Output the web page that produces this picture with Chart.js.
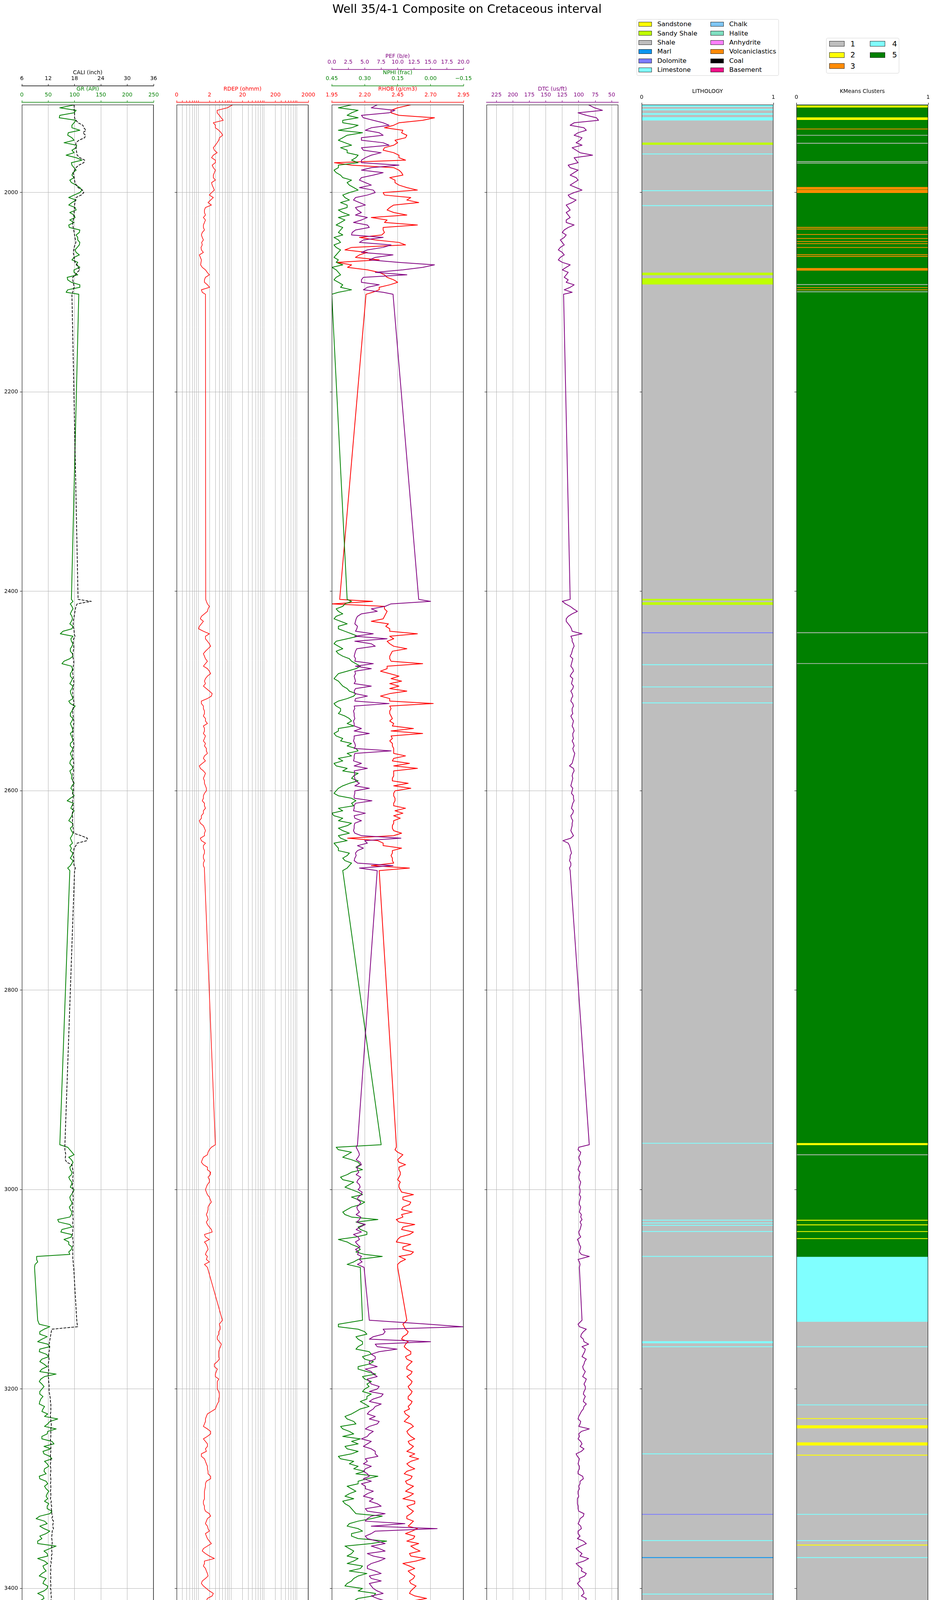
<!DOCTYPE html>
<html>
<head>
<meta charset="utf-8">
<title>Well 35/4-1 Composite on Cretaceous interval</title>
<script src="https://cdn.jsdelivr.net/npm/chart.js@4.4.1/dist/chart.umd.min.js"></script>
<style>
html,body{margin:0;padding:0;background:#fff;}
body{width:2390px;height:4828px;position:relative;overflow:hidden;font-family:"DejaVu Sans",sans-serif;color:#000;}
canvas{position:absolute;top:0;}
#suptitle{position:absolute;left:0;top:8px;width:2390px;text-align:center;font-size:30px;line-height:30px;white-space:nowrap;z-index:5;}
.lg{position:absolute;border:1px solid #d4d4d4;border-radius:4px;background:#fff;box-sizing:border-box;z-index:5;}
.sw{position:absolute;box-sizing:border-box;border:1px solid #222;z-index:6;}
.lt{position:absolute;white-space:nowrap;line-height:1;z-index:6;}
</style>
</head>
<body>
<div id="suptitle">Well 35/4-1 Composite on Cretaceous interval</div>
<script>
// ---------------- DATA (main samples) ----------------
const DEPTH = [
  1912,1915,1920,1925,1930,1935,1940,1945,1950,1955,1960,1965,1970,1975,1980,1985,1990,1995,2000,2005,
  2010,2015,2020,2025,2030,2035,2040,2045,2050,2055,2060,2065,2070,2075,2080,2085,2090,2095,2100,2102,
  2408,2410,2415,2420,2425,2430,2435,2440,2445,2450,2455,2460,2465,2470,2475,2480,2485,2490,2495,2500,
  2505,2510,2515,2520,2525,2530,2535,2540,2545,2550,2555,2560,2565,2570,2575,2580,2585,2590,2595,2600,
  2605,2610,2615,2620,2625,2630,2635,2640,2645,2650,2655,2660,2665,2670,2675,2680,
  2955,2960,2965,2970,2975,2980,2985,2990,2995,3000,3005,3010,3015,3020,3025,3030,3035,3040,3045,3050,
  3055,3060,3065,3067,3070,3075,3078,
  3131,3135,3140,3145,3150,3155,3160,3165,3170,3175,3180,3185,3190,3195,3200,3205,3210,3215,3220,3225,
  3230,3235,3240,3245,3250,3255,3260,3265,3270,3275,3280,3285,3290,3295,3300,3305,3310,3315,3320,3325,
  3330,3335,3340,3345,3350,3355,3360,3365,3370,3375,3380,3385,3390,3395,3400,3405,3410,3415,3420,3425,
  3430,3435,3440,3445,3450,3455,3460,3465,3470,3475,3480,3485,3490,3495,3500,3505,3510,3515,3520,3525,
  3530,3535,3540,3545,3550,3555,3560,3565,3570,3575,3580,3585,3590,3595,3600,3605,3610,3615,3620,3625,
  3630,3635,3640,3645,3650,3655,3660,3665,3670,3675,3680,3685,3690,3695
];
const GR = [
  100,72,99,71,99,95,88,95,80,103, 99,103,94,99,97,99,94,110,110,89, 95,101,91,101,99,90,109,106,110,105, 103,99,106,110,99,86,94,110,84,108,
  94,97,95,94,95,94,97,78,97,94, 95,92,97,80,94,95,92,94,97,92, 95,89,101,95,92,95,94,97,94,97, 92,95,94,92,95,91,95,97,95,97, 99,86,95,99,95,89,97,94,95,94, 91,92,95,97,92,91,
  72,91,99,94,95,92,94,91,94,99, 94,92,94,92,94,68,91,76,94,80, 89,94,91,28,28,25,24,
  30,
  33,42,34,38,49,34,46,38,42,38, 65,36,38,38,34,36,33,40,49,68, 49,65,48,38,61,55,42,57,48,43, 46,34,49,46,48,49,51,48,53,27,
  48,42,46,38,30,53,48,30,49,42, 38,46,40,48,30,42,34,17,49,21, 34,27,27,49,25,23,53,42,34,46, 49,30,42,49,46,48,43,42,23,42,
  34,30,42,38,48,42,46,48,49,46, 53,48,42,53,49,48,51,46,49,43, 48,42,34,30,28,34,30,38,34,57, 51,60,57
];
const CALI = [
  17.9,17.9,18.0,18.0,18.8,20.1,19.9,20.3,18.3,18.3, 18.5,19.2,20.1,18.3,17.7,17.9,18.1,18.8,20.1,18.3, 18.1,18.0,17.9,17.9,17.6,17.7,17.9,18.1,18.3,17.9, 17.7,17.9,18.1,18.8,18.6,17.6,17.7,17.9,17.6,17.4,
  18.8,21.8,18.3,18.1,17.9,17.7,17.7,17.9,18.1,17.7, 17.8,17.7,17.6,17.8,17.7,17.6,17.7,17.8,17.7,17.6, 17.7,17.8,17.7,17.6,17.7,17.8,17.7,17.7,17.6,17.7, 17.8,17.7,17.6,17.7,17.7,17.8,17.7,17.6,17.7,17.8, 17.7,17.6,17.7,17.6,17.5,17.5,17.6,17.7,19.5,20.8, 18.3,17.8,17.7,17.8,17.9,18.0,
  15.8,15.8,16.0,15.9,17.4,17.6,17.7,17.6,17.5,17.7, 17.6,17.7,17.6,17.5,17.6,17.7,17.6,17.6,17.5,17.6, 17.7,17.6,17.6,17.6,17.6,17.7,17.8,
  18.5,
  18.6,12.8,12.6,12.4,12.2,12.3,12.1,12.2,12.0,12.1, 12.0,12.1,12.2,12.2,12.3,12.5,12.6,12.6,12.5,12.6, 12.7,12.6,12.6,12.5,12.6,12.6,12.5,12.6,12.5,12.6, 12.5,12.6,12.5,12.6,12.6,12.5,12.6,12.7,12.8,12.8,
  13.1,13.2,12.9,12.8,12.9,12.8,12.9,12.8,12.7,12.6, 12.5,12.6,12.6,12.5,12.6,12.7,12.8,12.6,12.7,12.6, 12.6,12.7,12.8,12.9,12.8,13.0,13.6,13.7,13.2,13.0, 14.8,12.9,12.8,13.0,12.9,12.8,13.0,12.9,13.0,12.9,
  13.1,12.8,12.7,12.8,12.9,12.7,12.6,12.7,12.8,12.7, 12.6,12.7,12.8,12.9,12.7,12.6,12.7,12.6,12.5,12.6, 12.5,12.4,12.4,12.3,12.4,12.3,12.4,12.3,12.2,12.4, 12.3,12.3,12.4
];
const RDEP = [
  10,6.9,3.4,4.5,2.6,3.0,4.5,4.0,3.4,2.6, 3.4,2.3,3.0,2.6,2.8,2.6,2.3,2.6,2.3,2.6, 1.8,1.5,1.4,1.3,1.4,1.3,1.2,1.2,1.15,1.1, 1.3,1.05,1.1,1.2,1.7,1.5,1.4,2.0,1.2,1.5,
  1.53,1.6,1.97,1.72,1.13,1.3,0.98,1.3,1.5,1.72, 2.15,1.5,1.4,1.72,1.3,1.97,1.72,1.4,1.3,1.97, 2.27,1.13,1.3,1.4,1.3,1.5,1.3,1.4,1.5,1.3, 1.4,1.6,1.4,1.5,0.98,1.3,1.4,1.4,1.5,1.6, 1.3,1.2,1.4,1.3,1.13,0.98,1.3,1.5,1.4,1.13, 1.3,1.4,1.3,1.4,1.3,1.4,
  3.0,1.97,1.72,1.2,1.3,1.72,2.1,1.97,1.72,1.5, 1.72,2.1,1.97,1.8,1.6,1.8,1.72,2.27,1.4,1.97, 1.6,1.8,1.5,1.72,1.6,1.4,1.72,
  4.9,
  3.96,4.2,3.8,3.44,4.56,3.96,3.8,3.96,2.8,3.44, 3.0,3.8,3.44,3.44,3.96,3.8,3.44,3.0,1.72,1.5, 1.4,1.72,2.15,1.3,1.72,1.5,1.13,1.4,1.6,1.72, 1.8,2.15,1.5,1.45,1.4,1.4,1.3,1.4,1.97,1.72,
  1.5,1.8,1.5,1.72,2.27,1.3,1.5,2.8,1.4,1.5, 1.72,1.5,1.13,1.6,2.6,1.72,1.8,5.2,2.27,6.0, 1.72,3.0,5.2,3.0,5.2,6.9,2.27,2.4,2.27,2.15, 1.6,3.44,1.5,1.4,1.97,1.3,1.97,1.5,3.44,1.72,
  1.8,1.72,1.5,1.72,1.6,1.8,1.6,1.72,1.6,1.5, 1.6,1.5,1.6,1.5,1.6,1.72,1.6,1.72,1.8,1.72, 1.8,1.97,2.15,2.8,2.27,2.15,3.44,2.27,3.0,1.13, 1.2,1.72,2.27
];
const RHOB = [
  2.55,2.45,2.40,2.73,2.46,2.35,2.48,2.51,2.45,2.35, 2.42,2.46,1.97,2.42,2.48,2.39,2.43,2.52,2.34,2.55, 2.61,2.39,2.42,2.25,2.35,2.34,2.35,2.16,2.46,2.10, 2.22,2.13,1.99,2.07,2.31,2.37,2.45,2.31,2.26,2.21,
  2.01,2.26,2.35,2.37,2.35,2.25,2.36,2.39,2.39,2.37, 2.42,2.41,2.39,2.40,2.37,2.32,2.46,2.48,2.46,2.52, 2.32,2.39,2.39,2.39,2.40,2.39,2.41,2.40,2.40,2.39, 2.41,2.42,2.51,2.41,2.42,2.42,2.42,2.41,2.42,2.43, 2.42,2.43,2.42,2.43,2.42,2.42,2.41,2.42,2.42,2.30, 2.34,2.41,2.40,2.41,2.25,2.31,
  2.44,2.43,2.49,2.45,2.51,2.46,2.47,2.45,2.46,2.47, 2.57,2.49,2.54,2.48,2.48,2.44,2.58,2.48,2.54,2.45, 2.55,2.49,2.55,2.46,2.51,2.45,2.45,
  2.52,
  2.49,2.51,2.52,2.48,2.51,2.52,2.55,2.52,2.54,2.52, 2.55,2.54,2.55,2.54,2.55,2.53,2.55,2.54,2.51,2.52, 2.55,2.54,2.53,2.58,2.54,2.55,2.58,2.61,2.52,2.58, 2.50,2.55,2.52,2.54,2.57,2.49,2.58,2.54,2.55,2.52,
  2.55,2.60,2.51,2.57,2.61,2.58,2.54,2.66,2.49,2.58, 2.55,2.57,2.55,2.57,2.54,2.67,2.57,2.55,2.63,2.55, 2.58,2.60,2.58,2.57,2.60,2.58,2.69,2.54,2.55,2.63, 2.46,2.49,2.52,2.61,2.48,2.51,2.79,2.57,2.42,2.63,
  2.49,2.48,2.55,2.52,2.72,2.51,2.61,2.55,2.58,2.73, 2.66,2.55,2.61,2.52,2.58,2.57,2.69,2.61,2.58,2.63, 2.55,2.61,2.60,2.57,2.58,2.67,2.55,2.52,2.60,2.55, 2.66,2.46,2.76
];
const NPHI = [
  0.36,0.42,0.36,0.33,0.40,0.36,0.31,0.40,0.39,0.41, 0.38,0.34,0.33,0.42,0.43,0.40,0.38,0.35,0.37,0.39, 0.41,0.38,0.40,0.42,0.41,0.40,0.42,0.44,0.41,0.43, 0.42,0.44,0.43,0.45,0.42,0.43,0.42,0.41,0.42,0.45,
  0.38,0.36,0.40,0.42,0.43,0.41,0.42,0.39,0.33,0.43, 0.42,0.43,0.40,0.36,0.32,0.38,0.43,0.42,0.40,0.37, 0.35,0.42,0.43,0.41,0.39,0.36,0.35,0.42,0.43,0.41, 0.38,0.33,0.36,0.40,0.43,0.40,0.35,0.33,0.40,0.43, 0.42,0.34,0.35,0.40,0.44,0.42,0.38,0.40,0.42,0.38, 0.43,0.42,0.38,0.39,0.37,0.40,
  0.225,0.42,0.38,0.36,0.32,0.31,0.38,0.40,0.37,0.36, 0.31,0.33,0.32,0.38,0.39,0.24,0.30,0.32,0.29,0.42, 0.36,0.32,0.30,0.22,0.33,0.38,0.32,
  0.31,
  0.42,0.33,0.29,0.33,0.31,0.34,0.27,0.30,0.28,0.33, 0.25,0.30,0.29,0.30,0.27,0.29,0.30,0.32,0.36,0.38, 0.34,0.40,0.35,0.32,0.33,0.38,0.36,0.41,0.37,0.35, 0.34,0.29,0.33,0.36,0.37,0.35,0.39,0.36,0.34,0.27,
  0.37,0.33,0.36,0.33,0.27,0.37,0.36,0.33,0.38,0.32, 0.29,0.35,0.38,0.31,0.25,0.33,0.27,0.18,0.37,0.31, 0.17,0.19,0.16,0.18,0.15,0.16,0.27,0.25,0.31,0.32, 0.29,0.22,0.28,0.36,0.38,0.34,0.36,0.38,0.33,0.34,
  0.38,0.32,0.33,0.36,0.33,0.35,0.31,0.36,0.38,0.36, 0.38,0.40,0.36,0.38,0.42,0.36,0.38,0.33,0.34,0.36, 0.33,0.30,0.27,0.25,0.16,0.22,0.17,0.22,0.33,0.38, 0.42,0.43,0.36
];
const PEF = [
  6.9,6.0,8.7,4.8,7.8,6.0,7.2,4.5,7.8,4.5, 7.5,5.1,4.5,6.0,7.8,4.5,5.1,4.2,6.6,3.6, 4.2,3.6,4.5,5.4,3.3,5.7,3.1,7.8,4.2,7.8, 4.5,6.6,10.2,13.8,6.6,4.8,4.5,5.4,7.8,9.3,
  13.2,15.0,8.1,6.9,3.9,3.6,3.9,3.6,3.5,3.5, 6.6,3.6,3.4,3.5,3.6,3.5,3.4,3.6,6.0,3.4, 5.4,3.5,3.4,3.3,3.4,3.3,3.4,3.4,3.4,3.3, 3.6,9.0,3.4,3.3,3.4,3.4,3.4,3.6,3.5,3.5, 3.4,6.1,3.4,3.3,3.4,4.5,3.4,3.3,4.5,5.0, 3.9,3.9,3.7,3.4,9.3,6.9,
  3.9,3.9,4.2,3.7,4.5,3.9,3.7,4.0,4.2,4.0, 4.5,3.9,4.2,3.9,3.7,4.2,5.1,3.7,3.3,4.2, 3.9,3.6,3.9,4.5,4.2,3.9,4.9,
  5.7,
  14.7,7.8,7.8,5.7,6.6,9.9,6.0,6.6,5.7,5.1, 6.3,5.4,6.0,6.9,7.8,6.3,7.5,6.3,5.4,5.7, 6.9,5.1,5.7,4.5,5.4,6.0,6.6,5.1,4.8,5.1, 5.4,4.8,4.5,5.1,5.4,6.3,6.9,5.1,8.1,5.4,
  11.1,16.0,6.0,5.4,8.1,7.2,5.4,8.1,6.0,5.4, 7.5,6.0,5.7,6.3,7.8,6.9,5.7,6.6,5.1,7.8, 4.8,5.1,4.8,4.5,5.4,4.8,6.9,6.0,4.5,5.7, 19.9,5.4,5.7,17.2,19.9,6.0,7.2,7.8,7.2,8.1,
  8.7,6.6,6.3,7.8,10.8,6.9,5.7,6.3,9.6,7.2, 8.1,5.1,6.0,6.3,5.4,6.9,8.4,6.0,7.8,6.6, 6.0,7.2,7.8,6.3,7.2,5.7,6.9,6.0,6.3,5.4, 6.9,6.0,7.5
];
const DTC = [
  85,76,101,73,107,92,101,95,104,110, 98,107,101,113,107,104,107,104,107,113, 110,116,119,113,119,116,125,122,125,128, 125,128,125,119,116,122,119,113,110,123,
  113,125,113,102,116,119,113,110,112,110, 107,110,113,110,112,108,113,110,108,112, 109,112,108,110,112,108,110,107,109,110, 107,108,107,109,114,107,110,110,112,110, 108,107,110,108,112,109,110,112,108,124, 114,112,113,114,112,113,
  84,101,98,99,98,101,99,99,98,98, 99,98,99,98,96,95,96,98,99,102, 99,98,96,84,101,98,99,
  95,
  101,88.5,96,93,85,90,93,88.5,92,93, 92,88.5,92,90,93,92,88.5,93,98,101, 98,84,100,101,95,92,104,99,101,99, 101,93,98,99,101,102,102,101,92,98,
  101,96,101,102,88.5,104,95,85,104,95, 88.5,99,102,95,92,88.5,95,76,93,79, 88.5,79,82,85,76,75,88.5,84,93,90, 95,93,88.5,98,107,101,106,108,98,104,
  101,104,102,101,99,102,101,99,98,102, 101,104,102,101,99,101,98,99,98,96, 93,92,93,95,85,92,88.5,90,98,101, 102,95,88.5
];

// ---------------- DATA (intermediate samples, read between the main ones) ----------------
const DEPTH_MID = [
  1917.5,1922.5,1927.5,1932.5,1937.5,1942.5,1947.5,1952.5,1957.5,1962.5,1967.5,1972.5,1977.5,1982.5,1987.5,1992.5,1997.5,2002.5,2007.5,2012.5,
  2017.5,2022.5,2027.5,2032.5,2037.5,2042.5,2047.5,2052.5,2057.5,2062.5,2067.5,2072.5,2077.5,2082.5,2087.5,2092.5,2097.5,
  2412.5,2417.5,2422.5,2427.5,2432.5,2437.5,2442.5,2447.5,2452.5,2457.5,2462.5,2467.5,2472.5,2477.5,2482.5,2487.5,2492.5,2497.5,2502.5,2507.5,
  2512.5,2517.5,2522.5,2527.5,2532.5,2537.5,2542.5,2547.5,2552.5,2557.5,2562.5,2567.5,2572.5,2577.5,2582.5,
  2587.5,2592.5,2597.5,2602.5,2607.5,2612.5,2617.5,2622.5,2627.5,2632.5,2637.5,2642.5,2647.5,2652.5,2657.5,2662.5,2667.5,2672.5,2677.5,
  2957.5,2962.5,2967.5,2972.5,2977.5,2982.5,2987.5,2992.5,2997.5,3002.5,3007.5,3012.5,3017.5,3022.5,3027.5,3032.5,3037.5,3042.5,3047.5,3052.5,
  3057.5,3062.5,3072.5,
  3137.5,3142.5,3147.5,3152.5,3157.5,3162.5,3167.5,3172.5,3177.5,3182.5,3187.5,3192.5,
  3197.5,3202.5,3207.5,3212.5,3217.5,3222.5,3227.5,3232.5,3237.5,3242.5,3247.5,3252.5,3257.5,3262.5,3267.5,3272.5,3277.5,3282.5,3287.5,3292.5,
  3297.5,3302.5,3307.5,3312.5,3317.5,3322.5,3327.5,3332.5,3337.5,3342.5,3347.5,3352.5,3357.5,3362.5,3367.5,3372.5,3377.5,3382.5,3387.5,3392.5,
  3397.5,3402.5,3407.5,3412.5,3417.5,3422.5,3427.5,3432.5,3437.5,3442.5,
  3447.5,3452.5,3457.5,3462.5,3467.5,3472.5,3477.5,3482.5,3487.5,3492.5,3497.5,3502.5,3507.5,3512.5,3517.5,3522.5,3527.5,3532.5,3537.5,3542.5,
  3547.5,3552.5,3557.5,3562.5,3567.5,3572.5,3577.5,3582.5,3587.5,3592.5,3597.5,3602.5,3607.5,3612.5,3617.5,3622.5,3627.5,3632.5,3637.5,3642.5,
  3647.5,3652.5,3657.5,3662.5,3667.5,3672.5,3677.5,3682.5,3687.5,3692.5
];
const GR_MID = [
  103,72,103,95,110,87,99,104,95,84, 114,95,103,95,91,103,114,99,103,89, 103,99,91,89,110,103,106,109,101,109, 95,103,99,106,87,110,87,
  92,97,92,96,91,95,73,93,97,92, 96,91,76,96,92,96,91,95,93,97, 92,97,92,97,92,96,92,96,92,97, 92,96,91,97,93,
  94,99,93,96,92,98,93,96,92,96, 92,97,92,96,94,97,92,95,87,
  87,95,89,97,91,95,89,95,92,97, 91,95,90,95,91,70,95,74,94,89, 95,89,30,
  53,34,48,30,53,33,51,34,48,34,43,33,
  42,34,40,34,43,38,43,53,43,49, 38,57,42,40,53,43,51,42,33,46, 43,51,46,43,48,57,34,43,34,53, 34,30,65,42,49,43,40,46,33,42, 49,42,40,34,23,53,23,27,38,30,
  25,42,23,42,48,49,40,53,34,46, 38,48,42,49,48,27,34,43,30,38, 46,42,38,49,43,51,46,53,43,49, 46,48,53,46,43,53,43,49,43,38, 34,27,38,33,30,33,53,65,84,53
];
const CALI_MID = [
  17.9,18.0,18.3,19.9,20.6,20.5,19.0,18.3,18.4,18.6, 20.3,19.0,18.0,17.8,18.0,18.4,19.8,19.5,18.2,18.0, 17.9,17.8,17.7,17.6,17.8,18.0,18.2,18.1,17.8,17.8, 18.0,18.6,19.2,18.2,17.6,17.8,17.7,
  18.6,18.2,18.0,17.8,17.7,17.8,17.9,17.8,17.7,17.8, 17.6,17.7,17.8,17.7,17.6,17.7,17.8,17.7,17.6,17.7, 17.8,17.7,17.6,17.7,17.8,17.7,17.6,17.7,17.8,17.7, 17.6,17.7,17.8,17.7,17.6,
  17.7,17.8,17.7,17.6,17.7,17.6,17.7,17.5,17.6,17.6, 17.7,17.8,20.9,18.6,17.9,17.7,17.8,17.8,18.2,
  15.8,15.9,15.9,16.2,17.5,17.7,17.6,17.7,17.6,17.6, 17.7,17.6,17.6,17.7,17.6,17.6,17.7,17.6,17.6,17.7, 17.6,17.6,17.7,
  18.7,12.7,12.5,12.3,12.3,12.2,12.1,12.1,12.0,12.1,12.0,12.1,
  12.2,12.2,12.4,12.5,12.6,12.6,12.5,12.6,12.7,12.6, 12.6,12.5,12.6,12.6,12.5,12.6,12.5,12.6,12.5,12.6, 12.6,12.5,12.6,12.7,12.8,12.8,13.0,13.2,13.0,12.9, 12.8,12.9,12.8,12.8,12.7,12.6,12.5,12.6,12.6,12.5, 12.6,12.7,12.7,12.6,12.7,12.6,12.6,12.7,12.8,12.8,
  12.8,12.9,12.9,13.3,13.8,13.5,13.0,13.6,13.0,12.9, 12.9,12.8,12.9,13.0,12.9,12.9,13.0,12.9,12.9,12.8, 12.8,12.7,12.8,12.8,12.7,12.8,12.7,12.7,12.6,12.8, 12.9,12.8,12.7,12.6,12.7,12.6,12.6,12.5,12.5,12.4, 12.4,12.4,12.3,12.4,12.3,12.3,12.3,12.4,12.3,12.4
];
const RDEP_MID = [
  3.4,3.96,5.2,3.0,3.8,5.0,3.8,3.0,2.8,2.6, 3.0,2.4,3.0,2.6,3.0,2.4,2.8,1.97,2.15,2.27, 1.4,1.5,1.5,1.3,1.4,1.13,1.3,1.2,1.13,0.98, 1.13,1.07,1.5,1.97,1.4,1.72,1.13,
  1.72,1.8,1.4,1.05,1.13,0.93,1.97,1.5,1.97,1.8, 1.3,1.5,1.5,1.72,2.15,1.5,1.5,1.6,2.4,1.72, 1.13,1.3,1.4,1.5,1.72,1.4,1.3,1.4,1.5,1.6, 1.72,1.3,1.2,1.05,1.5,
  1.3,1.4,1.6,1.4,1.3,1.4,1.5,1.3,1.13,1.05, 1.4,1.4,1.05,1.5,1.3,1.4,1.3,1.3,1.4,
  2.27,1.8,1.3,1.13,1.72,2.15,1.8,1.97,1.6,1.6, 1.97,2.27,1.8,1.72,1.72,1.6,1.97,2.4,1.5,1.4, 1.72,1.6,1.97,
  4.2,3.8,3.44,3.96,4.3,3.8,3.8,3.44,2.8,3.2,3.0,3.44,
  3.44,3.8,3.96,3.8,3.2,2.27,1.6,1.5,1.3,2.15, 1.72,1.5,1.72,1.6,1.13,1.5,1.72,1.8,2.15,1.6, 1.5,1.4,1.4,1.3,1.4,1.5,2.15,1.6,1.72,1.97, 1.6,1.97,1.72,1.2,1.97,1.4,1.3,1.6,1.8,1.2, 1.3,1.97,2.4,1.6,2.27,6.0,3.44,2.27,1.97,3.8,
  6.5,3.2,6.5,2.27,2.15,2.4,2.6,1.8,1.97,3.0, 1.4,1.6,1.5,1.5,1.72,2.6,2.15,1.72,1.6,1.8, 1.6,1.72,1.5,1.97,1.6,1.5,1.72,1.6,1.5,1.6, 1.6,1.5,1.72,1.6,1.72,1.8,1.72,1.8,1.97,2.27, 2.15,3.0,2.4,2.27,3.0,3.8,1.97,1.13,1.3,2.15
];
const RHOB_MID = [
  2.40,2.46,2.64,2.42,2.49,2.52,2.43,2.42,2.34,2.46, 2.51,2.10,2.46,2.49,2.43,2.46,2.60,2.35,2.52,2.42, 2.37,2.52,2.37,2.60,2.34,2.33,2.28,2.51,2.05,2.16, 2.31,2.10,2.22,2.35,2.42,2.39,2.31,
  1.95,2.35,2.36,2.34,2.38,2.39,2.60,2.42,2.39,2.52, 2.40,2.39,2.64,2.37,2.39,2.40,2.39,2.39,2.39,2.39, 2.72,2.40,2.39,2.41,2.42,2.57,2.64,2.41,2.41,2.42, 2.42,2.42,2.54,2.60,2.42,
  2.41,2.53,2.55,2.42,2.43,2.42,2.51,2.49,2.47,2.42, 2.41,2.48,2.07,2.34,2.48,2.41,2.41,2.42,2.54,
  2.44,2.45,2.47,2.46,2.46,2.47,2.46,2.47,2.46,2.48, 2.49,2.55,2.49,2.56,2.49,2.46,2.49,2.57,2.47,2.44, 2.49,2.57,2.47,
  2.50,2.53,2.49,2.53,2.50,2.55,2.51,2.56,2.52,2.56,2.52,2.56,
  2.53,2.56,2.53,2.56,2.53,2.50,2.54,2.50,2.57,2.52, 2.55,2.53,2.57,2.52,2.54,2.55,2.54,2.52,2.56,2.51, 2.57,2.51,2.54,2.58,2.52,2.57,2.52,2.57,2.53,2.56, 2.58,2.52,2.55,2.62,2.55,2.59,2.54,2.53,2.58,2.54, 2.59,2.55,2.58,2.56,2.58,2.56,2.58,2.56,2.61,2.57,
  2.60,2.58,2.62,2.56,2.60,2.57,2.60,2.55,2.52,2.57, 2.53,2.57,2.52,2.56,2.53,2.59,2.52,2.56,2.53,2.58, 2.52,2.58,2.54,2.59,2.53,2.60,2.55,2.58,2.60,2.56, 2.58,2.60,2.62,2.58,2.62,2.58,2.64,2.59,2.63,2.58, 2.62,2.55,2.62,2.56,2.60,2.55,2.63,2.57,2.64,2.68
];
const NPHI_MID = [
  0.33,0.38,0.40,0.33,0.42,0.38,0.42,0.36,0.38,0.33, 0.36,0.42,0.44,0.41,0.36,0.37,0.33,0.40,0.37,0.38, 0.42,0.37,0.39,0.43,0.41,0.40,0.42,0.44,0.41,0.43, 0.42,0.40,0.43,0.41,0.44,0.40,0.36,
  0.39,0.43,0.40,0.44,0.38,0.42,0.36,0.38,0.44,0.40, 0.42,0.37,0.34,0.34,0.42,0.44,0.41,0.38,0.34,0.38, 0.44,0.41,0.42,0.37,0.38,0.42,0.44,0.40,0.36,0.34, 0.38,0.42,0.44,0.38,0.33,
  0.36,0.37,0.42,0.44,0.36,0.36,0.42,0.45,0.40,0.36, 0.42,0.37,0.41,0.44,0.42,0.37,0.40,0.36,0.38,
  0.43,0.36,0.40,0.33,0.34,0.36,0.41,0.35,0.39,0.33, 0.36,0.30,0.36,0.40,0.36,0.34,0.33,0.29,0.34,0.38, 0.33,0.34,0.35,
  0.42,0.30,0.34,0.31,0.33,0.28,0.31,0.26,0.33,0.29,0.31,0.27,
  0.28,0.31,0.29,0.32,0.28,0.34,0.39,0.35,0.41,0.37, 0.40,0.36,0.39,0.33,0.42,0.35,0.33,0.30,0.24,0.33, 0.38,0.34,0.39,0.40,0.37,0.35,0.22,0.33,0.38,0.31, 0.36,0.20,0.39,0.35,0.38,0.35,0.31,0.37,0.33,0.36, 0.39,0.33,0.26,0.35,0.32,0.40,0.21,0.34,0.19,0.17,
  0.16,0.17,0.16,0.20,0.30,0.28,0.31,0.37,0.26,0.28, 0.39,0.41,0.37,0.40,0.38,0.35,0.37,0.41,0.33,0.37, 0.39,0.34,0.37,0.33,0.38,0.40,0.37,0.40,0.37,0.38, 0.40,0.42,0.38,0.40,0.37,0.31,0.38,0.36,0.31,0.28, 0.23,0.20,0.25,0.18,0.27,0.25,0.36,0.44,0.40,0.44
];
const PEF_MID = [
  9.6,4.5,6.3,8.7,5.1,7.8,4.5,8.7,4.8,6.0, 4.5,10.2,4.5,6.3,4.2,6.0,6.3,5.4,3.3,5.1, 3.9,3.6,4.5,5.4,3.6,3.0,4.8,9.0,5.4,9.3, 5.7,15.6,10.8,11.4,4.5,7.2,4.8,
  9.0,6.0,4.5,3.7,3.5,3.8,6.3,8.4,6.0,3.8, 3.5,3.6,6.3,6.0,3.6,3.5,3.4,3.6,3.5,3.6, 8.7,3.5,3.4,3.5,3.4,4.5,5.7,3.4,3.5,3.4, 3.5,3.4,4.5,5.4,3.5,
  3.5,4.2,5.7,3.5,3.4,3.6,3.4,5.1,3.5,3.5, 3.4,3.5,10.5,5.4,4.8,3.6,3.5,3.9,4.2,
  3.7,4.1,4.0,4.3,3.8,4.1,4.4,3.8,4.3,4.6, 4.0,4.4,3.8,4.2,4.4,3.8,4.3,4.5,4.0,3.6, 4.3,4.1,4.6,
  19.9,8.1,6.3,15.0,6.9,7.2,6.6,5.7,6.9,6.0,6.9,5.7,
  7.2,5.7,7.5,5.7,6.6,5.7,6.6,7.2,5.7,6.3, 5.4,6.0,4.8,6.6,7.0,5.4,6.0,4.8,5.7,6.0, 5.1,6.3,4.8,5.7,7.5,5.4,6.0,5.1,6.0,6.6, 5.1,6.9,6.0,8.1,6.3,7.2,5.4,6.6,5.7,7.5, 6.0,6.9,6.0,8.1,5.4,7.8,6.3,10.5,6.0,6.6,
  4.5,5.1,4.2,5.4,4.8,6.6,5.1,6.3,7.5,6.3, 7.2,6.0,7.8,5.7,8.1,6.3,8.4,6.6,7.2,5.4, 7.5,6.0,7.2,5.4,7.5,6.0,7.8,6.3,7.2,4.8, 6.0,5.1,7.8,5.7,6.6,8.1,5.7,7.8,5.4,8.4, 6.0,8.7,6.3,8.7,6.0,7.2,5.4,8.1,5.4,8.7
];
const DTC_MID = [
  64,88.5,70,113,88.5,107,98,95,104,79, 104,116,101,113,101,113,95,116,104,119, 113,116,119,107,122,119,128,122,131,122, 131,113,125,119,116,107,122,
  120,108,110,119,116,111,95,110,108,109, 111,109,111,109,111,109,111,109,110,111, 109,110,109,110,109,108,109,108,108,109, 106,108,110,108,109,
  109,111,109,111,108,109,111,109,111,110, 111,110,112,116,113,111,113,112,114,
  100,97,100,97,100,98,100,97,99,98, 97,99,97,99,97,98,97,100,97,100, 97,99,99,
  99,93,97,92,95,91,95,91,94,90,94,90,
  90,92,90,93,92,96,100,97,100,96, 99,97,98,96,102,100,99,101,94,98, 100,101,100,102,101,100,93,99,97,101, 98,93,97,100,98,92,100,96,91,98, 99,93,96,90,93,80,88,82,90,84,
  79,82,78,80,86,90,91,95,91,96, 94,101,104,99,105,101,102,99,103,101, 100,103,100,101,103,100,101,99,103,101, 99,101,100,99,100,97,99,94,96,90, 94,88,91,86,92,87,100,103,99,92
];

// Lithology intervals (top, base, class)
const LITH_TOP  = [1911.85,1912.0,1916.2,1920.5,1924.5,1950.0,1961.0,1997.8,2012.8,2080.4,2086.0,2407.6,2411.0,2441.2,2473.2,2495.5,2511.5,2953.2,3030.3,3033.2,3035.5,3041.7,3066.7,3152.2,3157.3,3264.7,3325.4,3351.7,3368.7,3405.4,3419.4,3426.8,3434.8,3442.3,3452.5,3489.7,3523.4,3655.0,3660.7,3665.8,3671.0];
const LITH_BASE = [3694.85,1913.8,1917.4,1921.8,1927.6,1952.0,1961.6,1998.4,2013.4,2082.7,2092.0,2409.0,2413.4,2441.8,2473.8,2496.1,2512.1,2953.8,3030.9,3033.8,3036.1,3042.3,3067.3,3154.0,3157.9,3265.3,3326.0,3352.3,3369.3,3406.0,3422.8,3428.5,3441.2,3451.4,3463.4,3491.4,3525.7,3656.7,3662.4,3667.5,3675.0];
const LITH_CLASS = ['Shale','Limestone','Limestone','Limestone','Limestone','Sandy Shale','Limestone','Limestone','Limestone',
  'Sandy Shale','Sandy Shale','Sandy Shale','Sandy Shale','Dolomite',
  'Limestone','Limestone','Limestone','Limestone','Limestone','Limestone','Limestone','Limestone','Limestone','Limestone','Limestone','Limestone',
  'Dolomite','Limestone','Marl',
  'Limestone','Limestone','Limestone','Limestone','Limestone','Limestone','Limestone','Limestone','Limestone','Limestone','Limestone','Limestone'];
const LITH_BASE_COUNT = 1;

// KMeans cluster intervals (top, base, cluster id)
const CL_TOP  = [1911.85,3067.3,3132.4, 1912.8,1924.7,1936.0,1942.3,1950.3,1968.7,1970.2,1994.5,1997.4,2034.6,2036.3,2041.8,2045.8,2048.8,2051.0,2054.8,2062.0,2063.7,2075.8,2092.0,2095.0,2097.3,2099.3,2441.2,2472.1,2953.4,2964.8,3030.4,3035.0,3041.8,3048.8,3157.3,3215.6,3229.3,3236.5,3253.6,3266.0,3325.4,3351.7,3356.2,3368.7,3419.4,3426.8,3433.7,3443.5,3452.5,3464.8,3485.7,3523.4,3598.3,3609.0,3651.7,3656.4,3663.5,3675.5,3682.4,3688.0];
const CL_BASE = [3067.3,3132.4,3694.85, 1914.6,1927.0,1936.5,1942.8,1950.8,1969.2,1970.7,1996.8,2000.3,2035.2,2036.9,2042.3,2046.3,2049.3,2051.5,2055.3,2062.6,2064.3,2078.1,2092.5,2095.5,2097.8,2099.8,2441.7,2472.6,2955.2,2965.3,3031.0,3035.6,3042.3,3049.4,3157.9,3216.2,3229.9,3239.3,3256.5,3266.6,3326.0,3352.3,3356.8,3369.3,3422.8,3428.5,3437.7,3451.4,3463.4,3465.4,3488.0,3525.7,3600.6,3609.6,3652.3,3657.0,3666.4,3679.5,3685.3,3692.7];
const CL_ID   = [5,4,1, 2,2,3,1,1,1,1,3,3,3,3,3,3,3,3,3,3,3,3,1,3,3,1,1,1,2,1,2,2,2,2,4,4,2,2,2,2,4,4,2,4,4,4,4,4,4,2,2,4,2,2,4,4,4,2,2,2];
const CL_BASE_COUNT = 3;

// Legends
const LITH_NAMES  = ['Sandstone','Sandy Shale','Shale','Marl','Dolomite','Limestone','Chalk','Halite','Anhydrite','Volcaniclastics','Coal','Basement'];
const LITH_COLORS = ['#ffff00','#bfff00','#bebebe','#0d95ef','#7b7bff','#80ffff','#7fc6f3','#7edfc0','#ff80ff','#ff8a00','#000000','#ee1188'];
const CLUSTER_NAMES  = ['1','2','3','4','5'];
const CLUSTER_COLORS = ['#bebebe','#ffff00','#ff8c00','#80ffff','#008000'];

// Axis ticks
const DEPTH_TICKS = [2000,2200,2400,2600,2800,3000,3200,3400,3600];
const GR_TICKS   = [0,50,100,150,200,250];
const CALI_TICKS = [6,12,18,24,30,36];
const RDEP_TICKS = [0.2,0.3,0.4,0.5,0.6,0.7,0.8,0.9,2,3,4,5,6,7,8,9,20,30,40,50,60,70,80,90,200,300,400,500,600,700,800,900,2000];
const RDEP_LABELS = {0.2:'0',2:'2',20:'20',200:'200',2000:'2000'};
const RHOB_TICKS = [1.95,2.20,2.45,2.70,2.95];
const NPHI_TICKS = [0.45,0.30,0.15,0.00,-0.15];
const PEF_TICKS  = [0,2.5,5,7.5,10,12.5,15,17.5,20];
const DTC_TICKS  = [225,200,175,150,125,100,75,50];
const UNIT_TICKS = [0,1];

// ---------------- LAYOUT ----------------
const PAGE_H = 4828;
const TRACK_LEFT = [56,452,849,1245,1642,2038];
const TRACK_W = 337;
const AREA_TOP = 268, AREA_BOTTOM = 4819;
const Y_AXIS_W = 56, PAD_R = 30;
const AX_H = 42, GAP_H = 6;
const DEPTH_MIN = 1911.85, DEPTH_MAX = 3694.85;
const FS = 13.9;
const LW = 2;

Chart.defaults.font.family = "'DejaVu Sans', sans-serif";
Chart.defaults.font.size = FS;
Chart.defaults.color = '#000';
Chart.defaults.animation = false;

const framePlugin = {
  id: 'frame',
  afterDatasetsDraw(chart) {
    const a = chart.chartArea, ctx = chart.ctx;
    ctx.save();
    ctx.strokeStyle = '#000';
    ctx.lineWidth = 1.1;
    ctx.strokeRect(Math.round(a.left) + 0.5, Math.round(a.top) + 0.5, Math.round(a.right - a.left) - 1, Math.round(a.bottom - a.top) - 1);
    ctx.restore();
  }
};

function makeCanvas(i) {
  const c = document.createElement('canvas');
  const w = Y_AXIS_W + TRACK_W + PAD_R;
  c.width = w; c.height = PAGE_H;
  c.style.left = (TRACK_LEFT[i] - Y_AXIS_W) + 'px';
  c.style.width = w + 'px'; c.style.height = PAGE_H + 'px';
  document.body.appendChild(c);
  return c;
}
function fixTicks(values) { return s => { s.ticks = values.map(v => ({value: v})); }; }

function yScale(showLabels) {
  return {
    type: 'linear', position: 'left', reverse: true, min: DEPTH_MIN, max: DEPTH_MAX, bounds: 'data',
    afterBuildTicks: fixTicks(DEPTH_TICKS),
    ticks: {display: showLabels, color: '#000', font: {size: FS}, padding: 5, autoSkip: false, callback: v => String(v)},
    grid: {color: '#b0b0b0', lineWidth: 1, tickLength: 5, tickColor: '#000', tickWidth: 1},
    border: {display: false},
    afterFit: s => { s.width = Y_AXIS_W; s.paddingTop = 0; s.paddingBottom = 0; }
  };
}
function spacer() {
  return {
    type: 'linear', position: 'top', weight: 0, min: 0, max: 1, display: true, offset: false,
    ticks: {display: false}, grid: {display: false, drawTicks: false, offset: false}, border: {display: false},
    afterFit: s => { s.height = GAP_H; s.paddingLeft = 0; s.paddingRight = 0; }
  };
}
function topAxis(o) {
  return {
    type: o.type || 'linear', position: 'top', weight: o.weight, min: o.min, max: o.max, reverse: !!o.reverse, bounds: 'data', offset: false,
    afterBuildTicks: fixTicks(o.ticks),
    ticks: {color: o.color, font: {size: FS}, padding: 5, autoSkip: false, maxRotation: 0, minRotation: 0, callback: o.fmt},
    grid: {drawOnChartArea: !!o.grid, offset: false, color: '#b0b0b0', lineWidth: 1, tickLength: 5, tickColor: o.color, tickWidth: 1.2},
    border: {display: o.border !== false, color: o.color, width: 1.4},
    title: {display: true, text: o.title, color: o.color, font: {size: FS}, padding: {top: 0, bottom: 0}},
    afterFit: s => { s.height = AX_H; s.paddingLeft = 0; s.paddingRight = 0; }
  };
}
function baseOptions(topPad, scales, lineChart) {
  const o = {
    responsive: false, maintainAspectRatio: false, animation: false, devicePixelRatio: 1,
    layout: {padding: {left: 0, right: PAD_R, top: topPad, bottom: PAGE_H - AREA_BOTTOM}},
    plugins: {legend: {display: false}, tooltip: {enabled: false}, title: {display: false}},
    scales: scales
  };
  if (lineChart) { o.indexAxis = 'y'; o.elements = {point: {radius: 0}, line: {tension: 0}}; }
  return o;
}
// merge main and intermediate samples in depth order
function pts(vals, mids) {
  const rows = [];
  DEPTH.forEach((d, i) => { if (vals[i] !== undefined) rows.push([d, vals[i]]); });
  DEPTH_MID.forEach((d, i) => { if (mids[i] !== undefined) rows.push([d, mids[i]]); });
  rows.sort((a, b) => a[0] - b[0]);
  return rows.map(r => ({x: r[1], y: r[0]}));
}
function curve(label, vals, mids, axis, color, width, order, dash) {
  return {label, data: pts(vals, mids), xAxisID: axis, yAxisID: 'y', borderColor: color, backgroundColor: color,
          borderWidth: width, pointRadius: 0, tension: 0, fill: false, order, borderDash: dash || [],
          borderJoinStyle: 'round', borderCapStyle: 'butt'};
}
const f0 = v => String(v);
const f1 = v => Number(v).toFixed(1);
const f2 = v => Number(v).toFixed(2).replace('-', '\u2212');

// Track 1: GR + CALI
new Chart(makeCanvas(0), {
  type: 'line',
  data: {datasets: [
    curve('CALI', CALI, CALI_MID, 'cali', '#000000', 1.8, 0, [7, 3]),
    curve('GR', GR, GR_MID, 'gr', '#008000', LW, 1)
  ]},
  options: baseOptions(AREA_TOP - GAP_H - 2 * AX_H, {
    sp: spacer(),
    gr: topAxis({weight: 1, min: 0, max: 250, ticks: GR_TICKS, color: '#008000', title: 'GR (API)', fmt: f0, grid: true}),
    cali: topAxis({weight: 2, min: 6, max: 36, ticks: CALI_TICKS, color: '#000000', title: 'CALI (inch)', fmt: f0}),
    y: yScale(true)
  }, true),
  plugins: [framePlugin]
});

// Track 2: RDEP (log)
new Chart(makeCanvas(1), {
  type: 'line',
  data: {datasets: [curve('RDEP', RDEP, RDEP_MID, 'rdep', '#ff0000', 1.6, 0)]},
  options: baseOptions(AREA_TOP - GAP_H - AX_H, {
    sp: spacer(),
    rdep: topAxis({type: 'logarithmic', weight: 1, min: 0.2, max: 2000, ticks: RDEP_TICKS, color: '#ff0000', title: 'RDEP (ohmm)',
                   fmt: v => (RDEP_LABELS[v] !== undefined ? RDEP_LABELS[v] : ''), grid: true}),
    y: yScale(false)
  }, true),
  plugins: [framePlugin]
});

// Track 3: RHOB, NPHI, PEF
new Chart(makeCanvas(2), {
  type: 'line',
  data: {datasets: [
    curve('PEF', PEF, PEF_MID, 'pef', '#800080', LW, 0),
    curve('NPHI', NPHI, NPHI_MID, 'nphi', '#008000', LW, 1),
    curve('RHOB', RHOB, RHOB_MID, 'rhob', '#ff0000', LW, 2)
  ]},
  options: baseOptions(AREA_TOP - GAP_H - 3 * AX_H, {
    sp: spacer(),
    rhob: topAxis({weight: 1, min: 1.95, max: 2.95, ticks: RHOB_TICKS, color: '#ff0000', title: 'RHOB (g/cm3)', fmt: f2, grid: true}),
    nphi: topAxis({weight: 2, min: -0.15, max: 0.45, reverse: true, ticks: NPHI_TICKS, color: '#008000', title: 'NPHI (frac)', fmt: f2}),
    pef: topAxis({weight: 3, min: 0, max: 20, ticks: PEF_TICKS, color: '#800080', title: 'PEF (b/e)', fmt: f1}),
    y: yScale(false)
  }, true),
  plugins: [framePlugin]
});

// Track 4: DTC
new Chart(makeCanvas(3), {
  type: 'line',
  data: {datasets: [curve('DTC', DTC, DTC_MID, 'dtc', '#800080', LW, 0)]},
  options: baseOptions(AREA_TOP - GAP_H - AX_H, {
    sp: spacer(),
    dtc: topAxis({weight: 1, min: 40, max: 240, reverse: true, ticks: DTC_TICKS, color: '#800080', title: 'DTC (us/ft)', fmt: f0, grid: true}),
    y: yScale(false)
  }, true),
  plugins: [framePlugin]
});

// Interval (fill) tracks
function bandChart(i, title, tops, bases, colorOf, baseCount) {
  const datasets = tops.map((t, k) => ({
    type: 'bar', data: [[t, bases[k]]], xAxisID: 'xc', yAxisID: 'y',
    backgroundColor: colorOf(k), borderWidth: 0, grouped: false,
    categoryPercentage: 1, barPercentage: 1, order: k < baseCount ? 10 : 1
  }));
  new Chart(makeCanvas(i), {
    type: 'bar',
    data: {labels: ['L'], datasets},
    options: baseOptions(AREA_TOP - AX_H, {
      xc: {type: 'category', display: false, labels: ['L']},
      xt: topAxis({weight: 1, min: 0, max: 1, ticks: UNIT_TICKS, color: '#000000', title: title, fmt: f0, border: false}),
      y: yScale(false)
    }, false),
    plugins: [framePlugin]
  });
}
bandChart(4, 'LITHOLOGY', LITH_TOP, LITH_BASE, k => LITH_COLORS[LITH_NAMES.indexOf(LITH_CLASS[k])], LITH_BASE_COUNT);
bandChart(5, 'KMeans Clusters', CL_TOP, CL_BASE, k => CLUSTER_COLORS[CL_ID[k] - 1], CL_BASE_COUNT);

// ---------------- LEGENDS (HTML) ----------------
function addDiv(cls, css, text) {
  const d = document.createElement('div');
  d.className = cls;
  Object.assign(d.style, css);
  if (text !== undefined) d.textContent = text;
  document.body.appendChild(d);
  return d;
}
addDiv('lg', {left: '1629px', top: '49px', width: '364px', height: '145px'});
LITH_NAMES.forEach((name, k) => {
  const col = k < 6 ? 0 : 1, row = k % 6;
  const rc = 62 + row * 23.4;
  addDiv('sw', {left: (col ? 1818 : 1634) + 'px', top: (rc - 6) + 'px', width: '34px', height: '12px', background: LITH_COLORS[k]});
  addDiv('lt', {left: (col ? 1866 : 1682) + 'px', top: (rc - 7.9) + 'px', fontSize: '16.5px'}, name);
});
addDiv('lg', {left: '2114px', top: '97px', width: '187px', height: '91px'});
CLUSTER_NAMES.forEach((name, k) => {
  const col = k < 3 ? 0 : 1, row = k < 3 ? k : k - 3;
  const rc = 112 + row * 28.5;
  addDiv('sw', {left: (col ? 2226 : 2122) + 'px', top: (rc - 7) + 'px', width: '39px', height: '14px', background: CLUSTER_COLORS[k]});
  addDiv('lt', {left: (col ? 2283 : 2176) + 'px', top: (rc - 9.3) + 'px', fontSize: '19.4px'}, name);
});
</script>
</body>
</html>
